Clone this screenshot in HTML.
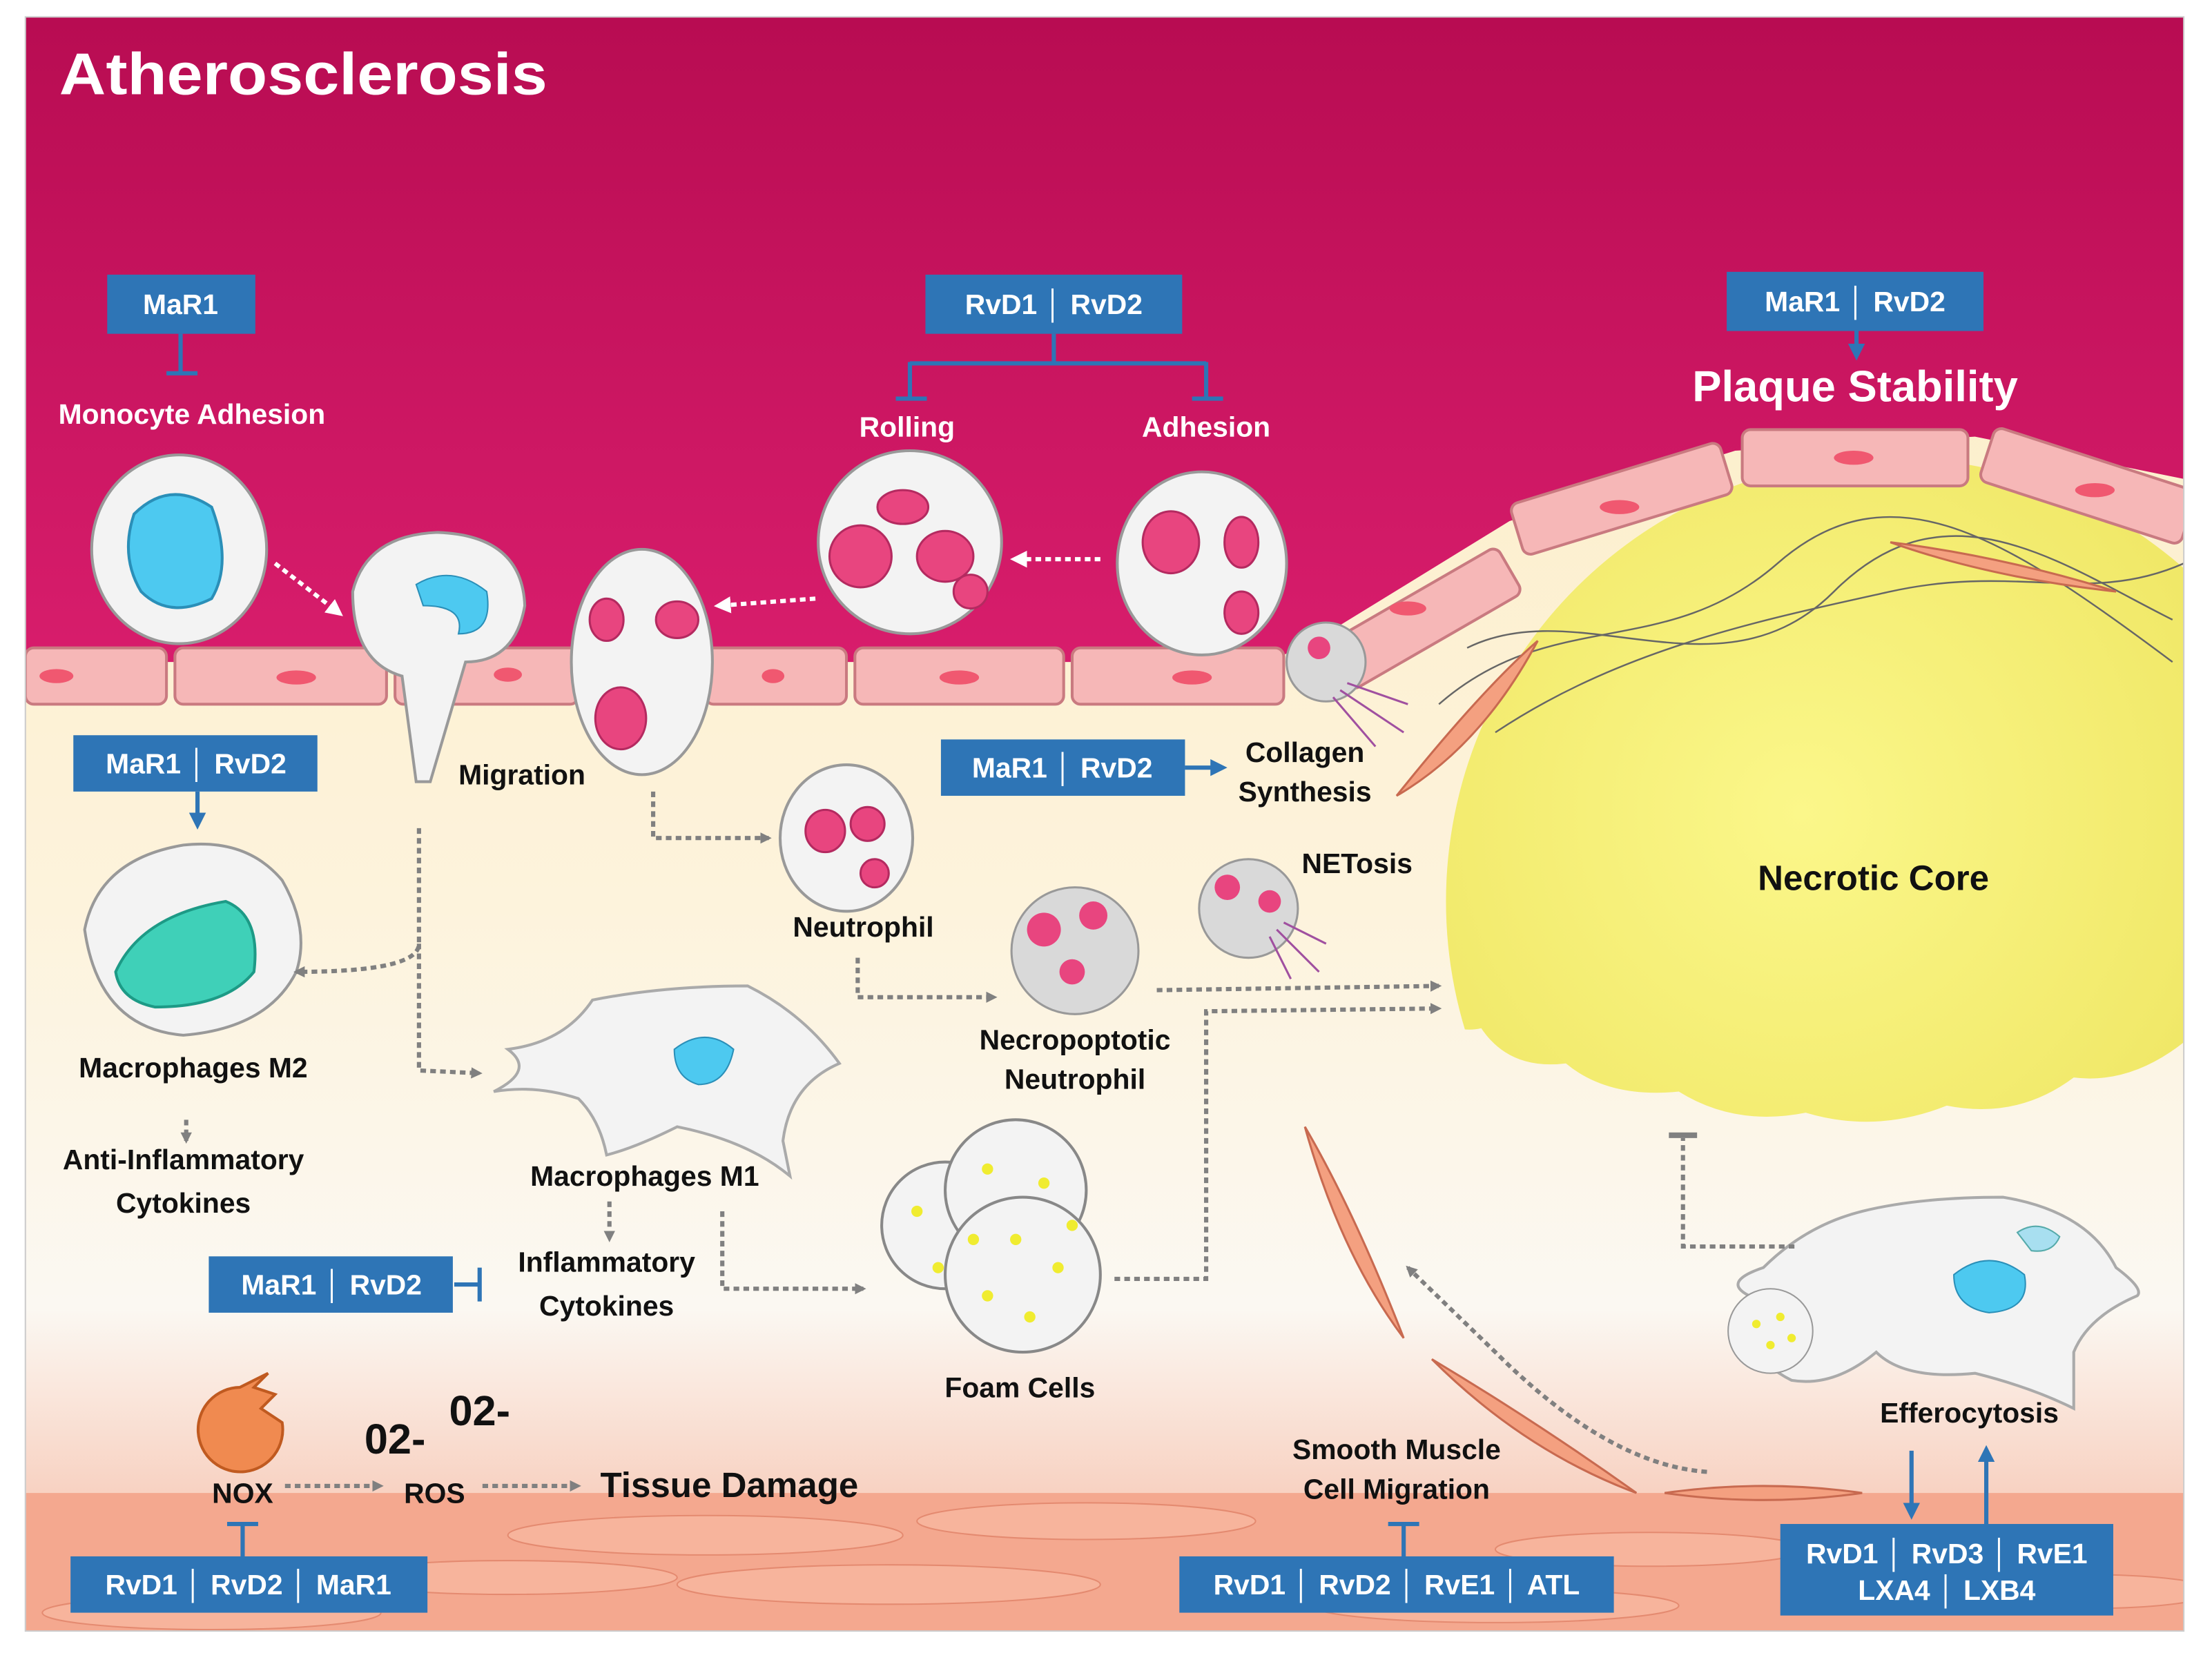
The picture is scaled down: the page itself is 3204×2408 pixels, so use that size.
<!DOCTYPE html>
<html><head><meta charset="utf-8"><style>
html,body{margin:0;padding:0;background:#fff}
svg{display:block}
text{font-family:"Liberation Sans",sans-serif;font-weight:bold}
</style></head><body>
<svg width="3204" height="2408" viewBox="0 0 1568 1180" preserveAspectRatio="none" xmlns="http://www.w3.org/2000/svg">
<defs>
<linearGradient id="cream" x1="0" y1="0" x2="0" y2="1"><stop offset="0" stop-color="#fcecc0"/><stop offset="0.55" stop-color="#fdf3dc"/><stop offset="0.8" stop-color="#fbf8f2"/><stop offset="1" stop-color="#f6b59e"/></linearGradient>
<linearGradient id="mag" x1="0" y1="0" x2="0" y2="1"><stop offset="0" stop-color="#b80c52"/><stop offset="1" stop-color="#d81d6c"/></linearGradient>
<radialGradient id="core" cx="0.4" cy="0.4" r="0.7"><stop offset="0" stop-color="#fbf78a"/><stop offset="1" stop-color="#ece25a"/></radialGradient>
<marker id="ag" markerWidth="8" markerHeight="8" refX="6" refY="4" orient="auto" markerUnits="userSpaceOnUse"><path d="M0,0 L8,4 L0,8z" fill="#808080"/></marker>
<marker id="aw" markerWidth="12" markerHeight="12" refX="8" refY="6" orient="auto" markerUnits="userSpaceOnUse"><path d="M0,0 L12,6 L0,12z" fill="#fff"/></marker>
<marker id="ab" markerWidth="12" markerHeight="12" refX="8" refY="6" orient="auto" markerUnits="userSpaceOnUse"><path d="M0,0 L12,6 L0,12z" fill="#2e75b6"/></marker>
<clipPath id="pan"><rect x="18" y="12" width="1530" height="1146"/></clipPath>
<clipPath id="coreclip"><path d="M1000,300 H1548 V740 Q1510,770 1470,765 Q1430,795 1380,785 Q1330,805 1280,790 Q1230,800 1190,775 Q1140,780 1110,755 Q1070,760 1050,730 Q1030,735 1000,715 Z"/></clipPath>
</defs>
<rect width="1568" height="1180" fill="#fff"/>
<g clip-path="url(#pan)">
<rect x="18" y="12" width="1530" height="1146" fill="url(#cream)"/>
<circle cx="1340" cy="640" r="315" fill="url(#core)" clip-path="url(#coreclip)"/>
<rect x="18" y="1060" width="1530" height="100" fill="#f4a88f"/>
<g fill="#f7b49c" stroke="#e48a70" stroke-width="1">
<ellipse cx="500" cy="1090" rx="140" ry="14"/><ellipse cx="770" cy="1080" rx="120" ry="13"/><ellipse cx="1170" cy="1100" rx="110" ry="12"/><ellipse cx="630" cy="1125" rx="150" ry="14"/><ellipse cx="360" cy="1120" rx="120" ry="12"/><ellipse cx="1060" cy="1140" rx="130" ry="12"/><ellipse cx="150" cy="1145" rx="120" ry="12"/><ellipse cx="1480" cy="1130" rx="90" ry="12"/>
</g>
<path d="M18,12 H1548 V340 L1400,310 L1230,320 L1070,370 L940,450 L900,470 L18,470z" fill="url(#mag)"/>
<g fill="#f6b7b7" stroke="#c97a80" stroke-width="2">
<rect x="18" y="460" width="100" height="40" rx="6"/><rect x="124" y="460" width="150" height="40" rx="6"/><rect x="280" y="460" width="130" height="40" rx="6"/><rect x="500" y="460" width="100" height="40" rx="6"/><rect x="606" y="460" width="148" height="40" rx="6"/><rect x="760" y="460" width="150" height="40" rx="6"/>
<rect x="940" y="420" width="140" height="38" rx="6" transform="rotate(-30 1010 440)"/>
<rect x="1072" y="335" width="155" height="38" rx="6" transform="rotate(-17 1150 354)"/>
<rect x="1235" y="305" width="160" height="40" rx="6"/>
<rect x="1405" y="325" width="150" height="40" rx="6" transform="rotate(18 1480 345)"/>
</g>
<g fill="#f05870"><ellipse cx="40" cy="480" rx="12" ry="5"/><ellipse cx="210" cy="481" rx="14" ry="5"/><ellipse cx="360" cy="479" rx="10" ry="5"/><ellipse cx="548" cy="480" rx="8" ry="5"/><ellipse cx="680" cy="481" rx="14" ry="5"/><ellipse cx="845" cy="481" rx="14" ry="5"/><ellipse cx="998" cy="432" rx="13" ry="5"/><ellipse cx="1148" cy="360" rx="14" ry="5"/><ellipse cx="1314" cy="325" rx="14" ry="5"/><ellipse cx="1485" cy="348" rx="14" ry="5"/></g>
<g fill="none" stroke="#666" stroke-width="1.2">
<path d="M1020,500 C1100,430 1180,470 1260,400 S1420,380 1540,470"/><path d="M1040,460 C1120,420 1220,500 1300,420 S1460,400 1540,440"/><path d="M1060,520 C1150,460 1250,440 1340,420 S1480,430 1548,400"/>
</g>
<g fill="#f4a080" stroke="#c86a50" stroke-width="1.5">
<path d="M990,565 Q1050,490 1090,455 Q1050,530 990,565z"/>
<path d="M1340,385 Q1420,395 1500,420 Q1410,410 1340,385z"/>
<path d="M925,800 Q960,860 995,950 Q950,890 925,800z"/>
<path d="M1015,965 Q1090,1010 1160,1060 Q1080,1030 1015,965z"/>
<path d="M1180,1060 Q1250,1050 1320,1060 Q1250,1070 1180,1060z"/>
</g>
<ellipse cx="127" cy="390" rx="62" ry="67" fill="#f3f3f3" stroke="#999" stroke-width="2"/>
<path d="M95,365 Q120,340 150,360 Q165,400 150,425 Q120,440 100,420 Q85,395 95,365z" fill="#4dc9f0" stroke="#2a8fb8" stroke-width="2"/>
<path d="M250,420 Q260,380 310,378 Q370,380 372,430 Q365,470 330,470 L305,555 L295,555 L285,480 Q250,470 250,420z" fill="#f3f3f3" stroke="#999" stroke-width="2"/>
<path d="M295,415 Q320,400 345,420 Q350,450 325,450 Q330,430 300,430z" fill="#4dc9f0" stroke="#2a8fb8"/>
<ellipse cx="455" cy="470" rx="50" ry="80" fill="#f3f3f3" stroke="#999" stroke-width="2"/>
<ellipse cx="645" cy="385" rx="65" ry="65" fill="#f3f3f3" stroke="#999" stroke-width="2"/>
<ellipse cx="852" cy="400" rx="60" ry="65" fill="#f3f3f3" stroke="#999" stroke-width="2"/>
<ellipse cx="600" cy="595" rx="47" ry="52" fill="#f3f3f3" stroke="#999" stroke-width="2"/>
<g fill="#e8457f" stroke="#b42a60" stroke-width="1.5">
<ellipse cx="440" cy="510" rx="18" ry="22"/><ellipse cx="480" cy="440" rx="15" ry="13"/><ellipse cx="430" cy="440" rx="12" ry="15"/>
<ellipse cx="610" cy="395" rx="22" ry="22"/><ellipse cx="670" cy="395" rx="20" ry="18"/><ellipse cx="640" cy="360" rx="18" ry="12"/><ellipse cx="688" cy="420" rx="12" ry="12"/>
<ellipse cx="830" cy="385" rx="20" ry="22"/><ellipse cx="880" cy="385" rx="12" ry="18"/><ellipse cx="880" cy="435" rx="12" ry="15"/>
<ellipse cx="585" cy="590" rx="14" ry="15"/><ellipse cx="615" cy="585" rx="12" ry="12"/><ellipse cx="620" cy="620" rx="10" ry="10"/>
</g>
<g fill="#d9d9d9" stroke="#999" stroke-width="1.5">
<circle cx="940" cy="470" r="28"/><circle cx="762" cy="675" r="45"/><circle cx="885" cy="645" r="35"/><circle cx="1345" cy="890" r="28"/>
</g>
<g fill="#e8457f"><circle cx="740" cy="660" r="12"/><circle cx="775" cy="650" r="10"/><circle cx="760" cy="690" r="9"/><circle cx="870" cy="630" r="9"/><circle cx="900" cy="640" r="8"/><circle cx="935" cy="460" r="8"/><circle cx="1335" cy="880" r="9"/><circle cx="1358" cy="895" r="8"/></g>
<g stroke="#a050a0" stroke-width="1.5"><path d="M950,490 L995,520 M945,495 L975,530 M955,485 L998,500"/><path d="M905,660 L935,690 M900,665 L915,695 M910,655 L940,670"/></g>
<path d="M60,660 Q70,610 130,600 Q175,595 200,625 Q220,660 210,690 Q190,730 130,735 Q70,730 60,660z" fill="#f3f3f3" stroke="#999" stroke-width="2"/>
<path d="M82,690 Q100,650 160,640 Q185,650 180,690 Q160,715 110,715 Q85,710 82,690z" fill="#3fd0b8" stroke="#1d9a86" stroke-width="2"/>
<path d="M360,745 Q400,740 420,710 Q470,700 530,700 Q570,720 595,755 Q560,770 555,810 L560,835 Q530,810 480,800 Q450,815 430,820 Q425,795 410,780 Q380,770 350,775 Q380,760 360,745z" fill="#f3f3f3" stroke="#aaa" stroke-width="2"/>
<path d="M478,745 Q500,728 520,745 Q515,770 495,770 Q478,765 478,745z" fill="#4dc9f0" stroke="#2a8fb8"/>
<g fill="#f3f3f3" stroke="#888" stroke-width="2"><circle cx="670" cy="870" r="45"/><circle cx="720" cy="845" r="50"/><circle cx="725" cy="905" r="55"/></g>
<g fill="#f0ec30"><circle cx="650" cy="860" r="4"/><circle cx="700" cy="830" r="4"/><circle cx="740" cy="840" r="4"/><circle cx="720" cy="880" r="4"/><circle cx="750" cy="900" r="4"/><circle cx="700" cy="920" r="4"/><circle cx="730" cy="935" r="4"/><circle cx="665" cy="900" r="4"/><circle cx="760" cy="870" r="4"/><circle cx="690" cy="880" r="4"/></g>
<path d="M1250,900 Q1280,870 1320,860 Q1360,850 1420,850 Q1480,860 1500,900 Q1520,915 1515,920 Q1480,935 1470,960 L1470,1000 Q1440,985 1400,975 Q1350,980 1330,960 Q1300,985 1270,980 Q1230,960 1240,920 Q1220,910 1250,900z" fill="#f3f3f3" stroke="#aaa" stroke-width="2"/>
<path d="M1385,905 Q1410,885 1435,905 Q1440,930 1410,932 Q1385,928 1385,905z" fill="#4dc9f0" stroke="#2a8fb8"/>
<circle cx="1255" cy="945" r="30" fill="#f3f3f3" stroke="#999"/>
<g fill="#f0ec30"><circle cx="1245" cy="940" r="3"/><circle cx="1262" cy="935" r="3"/><circle cx="1255" cy="955" r="3"/><circle cx="1270" cy="950" r="3"/></g>
<path d="M1430,875 Q1445,865 1460,878 Q1455,890 1440,888z" fill="#a8dff0" stroke="#5aa"/>
<path d="M170,985 A30,30 0 1 0 200,1010 L185,1000 L195,990 L180,985 L190,975z" fill="#f08a50" stroke="#c05a20" stroke-width="2"/>
</g>
<rect x="18" y="12" width="1530" height="1146" fill="none" stroke="#ccc" stroke-width="1"/>
<g fill="none" stroke="#808080" stroke-width="3" stroke-dasharray="4,3" marker-end="url(#ag)">
<path d="M297,588 V670 Q297,690 210,690"/>
<path d="M297,670 V760 L340,762"/>
<path d="M463,562 V595 L545,595"/>
<path d="M608,680 V708 L705,708"/>
<path d="M820,703 L1020,700"/>
<path d="M790,908 H855 V718 L1020,716"/>
<path d="M512,860 V915 L612,915"/>
<path d="M132,795 V810"/>
<path d="M432,853 V880"/>
<path d="M202,1055 H270"/>
<path d="M342,1055 H410"/>
<path d="M1210,1045 Q1140,1040 1060,960 L998,900"/>
</g>
<path d="M1272,885 H1193 V808" fill="none" stroke="#808080" stroke-width="3" stroke-dasharray="4,3"/>
<path d="M1183,806 H1203" stroke="#808080" stroke-width="4"/>
<g fill="none" stroke="#fff" stroke-width="3" stroke-dasharray="4,3" marker-end="url(#aw)">
<path d="M195,400 L240,435"/><path d="M578,425 L510,430"/><path d="M780,397 L720,397"/>
</g>
<g fill="#2e75b6"><rect x="76" y="195" width="105" height="42"/><rect x="656" y="195" width="182" height="42"/><rect x="1224" y="193" width="182" height="42"/>
<rect x="52" y="522" width="173" height="40"/><rect x="667" y="525" width="173" height="40"/><rect x="148" y="892" width="173" height="40"/>
<rect x="50" y="1105" width="253" height="40"/><rect x="836" y="1105" width="308" height="40"/><rect x="1262" y="1082" width="236" height="65"/></g>
<g stroke="#2e75b6" stroke-width="3" fill="none">
<path d="M128,237 V265 M118,265 H140"/>
<path d="M747,237 V258 M645,258 H855 M645,257 V282 M855,257 V282 M635,283 H657 M845,283 H867"/>
<path d="M172,1105 V1082 M161,1082 H183"/>
<path d="M995,1105 V1082 M984,1082 H1006"/>
<path d="M322,912 H340 M340,900 V924"/>
</g>
<g stroke="#2e75b6" stroke-width="3" marker-end="url(#ab)"><path d="M1316,235 V252"/><path d="M140,562 V585"/><path d="M840,545 L866,545"/><path d="M1355,1030 V1075"/><path d="M1408,1082 V1030"/></g>
<g fill="#fff" font-size="20" text-anchor="middle">
<text x="128" y="223">MaR1</text>
<text x="747" y="223">RvD1 │ RvD2</text>
<text x="1315" y="221">MaR1 │ RvD2</text>
<text x="139" y="549">MaR1 │ RvD2</text>
<text x="753" y="552">MaR1 │ RvD2</text>
<text x="235" y="919">MaR1 │ RvD2</text>
<text x="176" y="1132">RvD1 │ RvD2 │ MaR1</text>
<text x="990" y="1132">RvD1 │ RvD2 │ RvE1 │ ATL</text>
<text x="1380" y="1110">RvD1 │ RvD3 │ RvE1</text>
<text x="1380" y="1136">LXA4 │ LXB4</text>
<text x="136" y="301">Monocyte Adhesion</text>
<text x="643" y="310">Rolling</text>
<text x="855" y="310">Adhesion</text>
<text x="1315" y="285" font-size="31">Plaque Stability</text>
</g>
<text x="42" y="67" fill="#fff" font-size="42" textLength="346" lengthAdjust="spacingAndGlyphs">Atherosclerosis</text>
<g fill="#111" font-size="20" text-anchor="middle">
<text x="370" y="557">Migration</text>
<text x="925" y="541">Collagen</text><text x="925" y="569">Synthesis</text>
<text x="962" y="620">NETosis</text>
<text x="1328" y="632" font-size="25">Necrotic Core</text>
<text x="612" y="665">Neutrophil</text>
<text x="762" y="745">Necropoptotic</text><text x="762" y="773">Neutrophil</text>
<text x="137" y="765">Macrophages M2</text>
<text x="130" y="830">Anti-Inflammatory</text><text x="130" y="861">Cytokines</text>
<text x="457" y="842">Macrophages M1</text>
<text x="430" y="903">Inflammatory</text><text x="430" y="934">Cytokines</text>
<text x="723" y="992">Foam Cells</text>
<text x="1396" y="1010">Efferocytosis</text>
<text x="990" y="1036">Smooth Muscle</text><text x="990" y="1064">Cell Migration</text>
<text x="172" y="1067">NOX</text>
<text x="308" y="1067">ROS</text>
<text x="517" y="1063" font-size="25">Tissue Damage</text>
<text x="280" y="1032" font-size="30">02-</text>
<text x="340" y="1012" font-size="30">02-</text>
</g>
</svg>
</body></html>
